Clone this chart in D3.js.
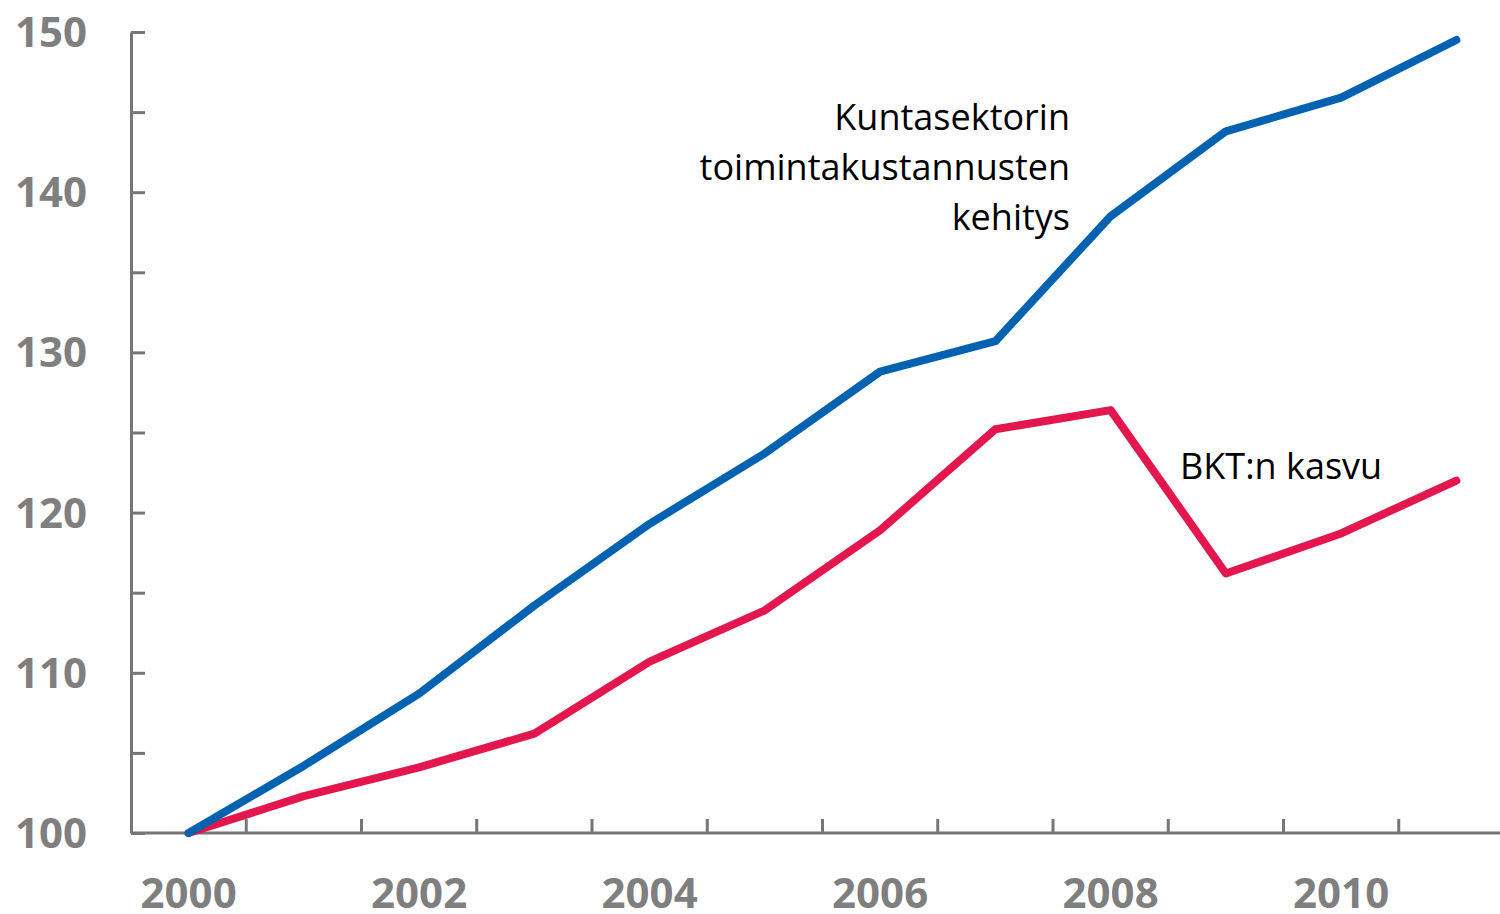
<!DOCTYPE html>
<html>
<head>
<meta charset="utf-8">
<script src="https://cdn.jsdelivr.net/npm/d3@7"></script>
<style>
  body { margin: 0; background: #fff; }
  svg { display: block; }
</style>
</head>
<body>
<div id="chart"></div>
<script>
// data (index, 2000 = 100)
var years = ["2000", "2001", "2002", "2003", "2004", "2005", "2006", "2007", "2008", "2009", "2010", "2011"];
var kunta = [100, 104.2, 108.7, 114.2, 119.3, 123.7, 128.8, 130.7, 138.5, 143.8, 145.9, 149.5];
var bkt = [100, 102.3, 104.1, 106.2, 110.7, 113.9, 118.9, 125.2, 126.4, 116.2, 118.7, 122.0];
var yTicks = [100, 110, 120, 130, 140, 150];
var xLabels = ["2000", "2002", "2004", "2006", "2008", "2010"];

var w = 1500;
var h = 914;
var mLeft = 131, mRight = 1514, mTop = 32, mBottom = 833;
var axisColor = "#767676";
var font = "'Open Sans', sans-serif";

var svg = d3.select("#chart")
    .append("svg")
    .attr("width", w)
    .attr("height", h);

var x = d3.scaleBand()
    .domain(years)
    .range([mLeft, mRight]);

var y = d3.scaleLinear()
    .domain([100, 150])
    .range([mBottom, mTop]);

// y axis: ticks every 5, labels every 10, ticks point inward
var yAxis = svg.append("g")
    .attr("transform", "translate(" + mLeft + ",0)")
    .call(d3.axisLeft(y).tickValues(d3.range(100, 151, 5)).tickSize(-14).tickSizeOuter(0).tickFormat(""));

yAxis.select(".domain").attr("stroke", axisColor).attr("stroke-width", 3);
yAxis.selectAll(".tick line").attr("stroke", axisColor).attr("stroke-width", 3);

svg.selectAll("text.ylab")
    .data(yTicks)
    .enter()
    .append("text")
    .attr("class", "ylab")
    .attr("x", 87)
    .attr("y", function (d) { return y(d) + 15; })
    .attr("text-anchor", "end")
    .attr("font-family", font)
    .attr("font-weight", "bold")
    .attr("font-size", 42)
    .attr("fill", "#7f7f7f")
    .text(function (d) { return d; });

// x axis: ticks between categories
var xAxis = svg.append("g")
    .attr("transform", "translate(0," + mBottom + ")");

xAxis.append("line")
    .attr("x1", mLeft)
    .attr("x2", mRight)
    .attr("stroke", axisColor)
    .attr("stroke-width", 3);

xAxis.selectAll("line.tk")
    .data(years.slice(1))
    .enter()
    .append("line")
    .attr("class", "tk")
    .attr("x1", function (d) { return x(d); })
    .attr("x2", function (d) { return x(d); })
    .attr("y1", 0)
    .attr("y2", -14)
    .attr("stroke", axisColor)
    .attr("stroke-width", 3);

svg.selectAll("text.xlab")
    .data(xLabels)
    .enter()
    .append("text")
    .attr("class", "xlab")
    .attr("x", function (d) { return x(d) + x.bandwidth() / 2; })
    .attr("y", 908)
    .attr("text-anchor", "middle")
    .attr("font-family", font)
    .attr("font-weight", "bold")
    .attr("font-size", 42)
    .attr("fill", "#7f7f7f")
    .text(function (d) { return d; });

// lines
var line = d3.line()
    .x(function (d, i) { return x(years[i]) + x.bandwidth() / 2; })
    .y(function (d) { return y(d); });

svg.append("path")
    .datum(bkt)
    .attr("d", line)
    .attr("fill", "none")
    .attr("stroke", "#e3174d")
    .attr("stroke-width", 8)
    .attr("stroke-linecap", "round")
    .attr("stroke-linejoin", "round");

svg.append("path")
    .datum(kunta)
    .attr("d", line)
    .attr("fill", "none")
    .attr("stroke", "#0062b0")
    .attr("stroke-width", 8)
    .attr("stroke-linecap", "round")
    .attr("stroke-linejoin", "round");

// annotations
var note = svg.append("text")
    .attr("font-family", font)
    .attr("font-size", 36)
    .attr("fill", "#000")
    .attr("text-anchor", "end");

["Kuntasektorin", "toimintakustannusten", "kehitys"].forEach(function (t, i) {
    note.append("tspan")
        .attr("x", 1070)
        .attr("y", 130 + i * 50)
        .text(t);
});

svg.append("text")
    .attr("x", 1180)
    .attr("y", 479)
    .attr("font-family", font)
    .attr("font-size", 36)
    .attr("fill", "#000")
    .text("BKT:n kasvu");
</script>
</body>
</html>
